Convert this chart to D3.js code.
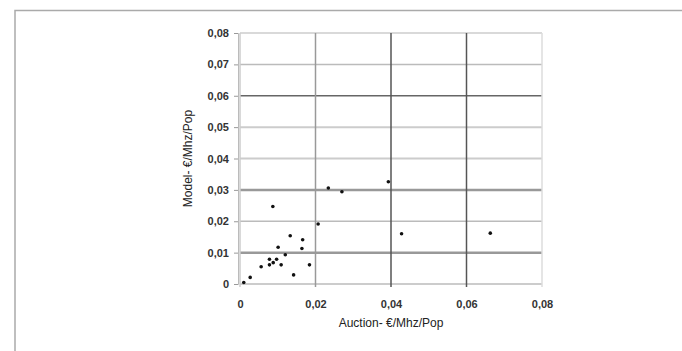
<!DOCTYPE html>
<html lang="en">
  <head>
    <meta charset="UTF-8" />
    <title>Model vs Auction</title>
    <style>
      html, body {
        margin: 0;
        background: #fff;
      }
      svg text {
        font-family: "Liberation Sans", Arial, sans-serif;
        fill: #222;
      }
    </style>
    <script src="https://cdn.jsdelivr.net/npm/d3@7"></script>
  </head>
  <body>
    <svg id="chart" width="682" height="351"></svg>
    <script>
      // auction price (x) vs model price (y), in €/MHz/pop
      const auction = [
        0.001, 0.0027, 0.0056, 0.0078, 0.0078, 0.0088, 0.0097, 0.0101,
        0.0109, 0.012, 0.0133, 0.0142, 0.0166, 0.0164, 0.0184, 0.0207,
        0.0087, 0.0234, 0.027, 0.0393, 0.0428, 0.0663
      ];
      const model = [
        0.0005, 0.0021, 0.0055, 0.0079, 0.0061, 0.0068, 0.0079, 0.0117,
        0.0061, 0.0093, 0.0154, 0.0029, 0.0141, 0.0113, 0.0061, 0.0191,
        0.0247, 0.0306, 0.0294, 0.0326, 0.016, 0.0162
      ];
      const xTicks = [0, 0.02, 0.04, 0.06, 0.08];
      const yTicks = [0, 0.01, 0.02, 0.03, 0.04, 0.05, 0.06, 0.07, 0.08];

      const svg = d3.select("#chart");
      const fmt = (d) => (d === 0 ? "0" : d3.format(".2f")(d).replace(".", ","));

      // outer frame (only top and left visible)
      svg.append("path")
        .attr("d", "M15,400 V10.5 H700")
        .attr("fill", "none")
        .attr("stroke", "#aaa")
        .attr("stroke-width", 1.5);

      const x = d3.scaleLinear().domain([0, 0.08]).range([240, 542]);
      const y = d3.scaleLinear().domain([0, 0.08]).range([284, 33]);

      // horizontal grid, shades vary like the original bitmap
      const hStyle = {
        0: ["#ccc", 2], 0.01: ["#999", 2.5], 0.02: ["#bbb", 1.5],
        0.03: ["#999", 2.5], 0.04: ["#ccc", 2], 0.05: ["#ccc", 2],
        0.06: ["#666", 1.5], 0.07: ["#bbb", 1.5], 0.08: ["#ccc", 1.5]
      };
      svg.append("g")
        .selectAll("line")
        .data(yTicks)
        .join("line")
        .attr("x1", x(0))
        .attr("x2", x(0.08))
        .attr("y1", (d) => y(d))
        .attr("y2", (d) => y(d))
        .attr("stroke", (d) => hStyle[d][0])
        .attr("stroke-width", (d) => hStyle[d][1]);

      const vStyle = { 0: ["#ccc", 1.5], 0.02: ["#999", 1.5], 0.04: ["#555", 1.5], 0.06: ["#555", 1.5], 0.08: ["#ddd", 1.5] };
      svg.append("g")
        .selectAll("line")
        .data(xTicks)
        .join("line")
        .attr("x1", (d) => x(d))
        .attr("x2", (d) => x(d))
        .attr("y1", y(0.08))
        .attr("y2", y(0) + 3)
        .attr("stroke", (d) => vStyle[d][0])
        .attr("stroke-width", (d) => vStyle[d][1]);

      // axes (labels only, lines drawn above)
      const yAxis = svg.append("g")
        .attr("transform", `translate(${x(0) - 2},0)`)
        .call(d3.axisLeft(y).tickValues(yTicks).tickFormat(fmt).tickSize(4).tickPadding(5));
      yAxis.select(".domain").attr("stroke", "#bbb");
      yAxis.selectAll(".tick line").attr("stroke", "#999");
      yAxis.selectAll("text").attr("font-size", 11).attr("font-weight", "bold").style("fill", "#333");

      const xAxis = svg.append("g")
        .attr("transform", `translate(0,${y(0) + 14})`)
        .call(d3.axisBottom(x).tickValues(xTicks).tickFormat(fmt).tickSize(0).tickPadding(2));
      xAxis.select(".domain").remove();
      xAxis.selectAll("text").attr("font-size", 11).attr("font-weight", "bold").style("fill", "#333");

      // points
      svg.append("g")
        .selectAll("circle")
        .data(auction.map((a, i) => [a, model[i]]))
        .join("circle")
        .attr("cx", (d) => x(d[0]))
        .attr("cy", (d) => y(d[1]))
        .attr("r", 1.8)
        .attr("fill", "#111");

      // axis titles
      svg.append("text")
        .attr("x", (x(0) + x(0.08)) / 2)
        .attr("y", 327)
        .attr("text-anchor", "middle")
        .attr("font-size", 12)
        .text("Auction- €/Mhz/Pop");

      svg.append("text")
        .attr("transform", `translate(192,${(y(0) + y(0.08)) / 2}) rotate(-90)`)
        .attr("text-anchor", "middle")
        .attr("font-size", 12)
        .text("Model- €/Mhz/Pop");
    </script>
  </body>
</html>
